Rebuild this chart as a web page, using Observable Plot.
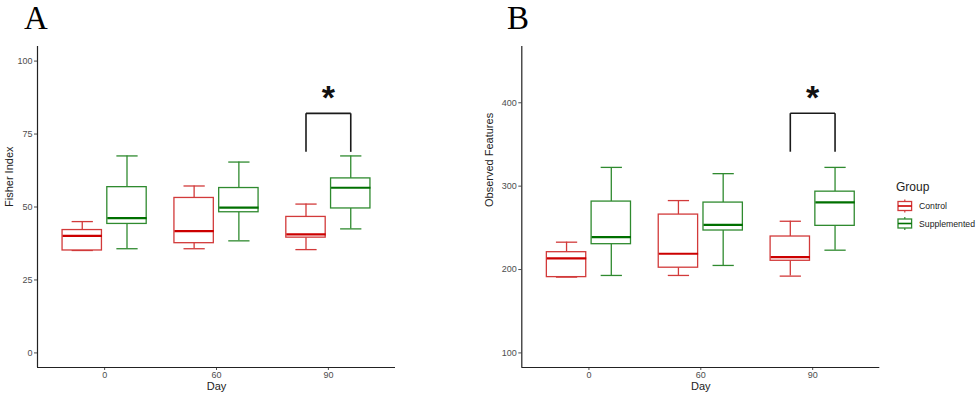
<!DOCTYPE html>
<html>
<head>
<meta charset="utf-8">
<script src="https://cdn.jsdelivr.net/npm/d3@7"></script>
<script src="https://cdn.jsdelivr.net/npm/@observablehq/plot@0.6"></script>
<style>
  body { margin: 0; background: #fff; }
  #wrap { position: relative; width: 979px; height: 398px; overflow: hidden; font-family: "Liberation Sans", Arial, sans-serif; }
  .panel { position: absolute; top: 0; }
  .letter { position: absolute; top: 2px; line-height: 1; font-family: "Liberation Serif", "Times New Roman", serif; font-size: 33px; color: #000; }
  #legend { position: absolute; left: 890px; top: 176px; }
</style>
</head>
<body>
<div id="wrap"></div>
<script>
// ---- data ----
const days = ["0", "60", "90"];
const groups = ["Control", "Supplemented"];
// each row: [min, q1, median, q3, max] for day 0, 60, 90
const fisherControl = [[35.1, 35.1, 40.1, 42.1, 45.0], [35.7, 37.6, 41.7, 53.1, 57.2], [35.4, 39.5, 40.6, 46.6, 51.0]];
const fisherSupplemented = [[35.7, 44.2, 46.2, 56.8, 67.5], [38.4, 48.2, 49.8, 56.5, 65.4], [42.5, 49.5, 56.6, 59.8, 67.5]];
const observedControl = [[190.9, 190.9, 213.3, 220.8, 232.8], [192.9, 202.2, 218.9, 265.9, 282.7], [192.1, 210.5, 214.8, 239.6, 257.9]];
const observedSupplemented = [[192.9, 230.4, 238.8, 281.5, 322.5], [204.9, 246.8, 253.6, 280.3, 315.0], [223.2, 252.4, 280.6, 293.4, 322.5]];
// significance bracket: [day, top, leg bottom]
const fisherBracket = ["90", 82.1, 68.9];
const observedBracket = ["90", 387.5, 341.3];
const fisherTicks = [0, 25, 50, 75, 100];
const observedTicks = [100, 200, 300, 400];

const colors = {Control: "#d23a3a", Supplemented: "#2f8a2f"};
const medianColors = {Control: "#cc0000", Supplemented: "#007000"};

function rows(ctrl, supp) {
  const out = [];
  [ctrl, supp].forEach((arr, gi) => {
    arr.forEach((s, di) => {
      out.push({day: days[di], group: groups[gi], pos: di + 1 + (gi === 0 ? -0.2 : 0.2),
        min: s[0], q1: s[1], med: s[2], q3: s[3], max: s[4]});
    });
  });
  return out;
}

function panel({ctrl, supp, bracket, domain, ticks, ylabel, width, marginLeft, marginRight}) {
  const data = rows(ctrl, supp);
  const bx = days.indexOf(bracket[0]) + 1;
  const br = [
    {x1: bx - 0.2, x2: bx + 0.2, y1: bracket[1], y2: bracket[1]},
    {x1: bx - 0.2, x2: bx - 0.2, y1: bracket[2], y2: bracket[1]},
    {x1: bx + 0.2, x2: bx + 0.2, y1: bracket[2], y2: bracket[1]}
  ];
  const hw = 0.176, cw = 0.095;
  return Plot.plot({
    width, height: 398,
    marginLeft, marginRight, marginTop: 46, marginBottom: 31,
    style: {fontFamily: "Liberation Sans, Arial, sans-serif", fontSize: "9px", background: "transparent"},
    x: {domain: [0.4, 3.6], axis: null},
    y: {domain, axis: null},
    marks: [
      Plot.axisX({ticks: [1, 2, 3], tickFormat: d => days[d - 1], tickSize: 3, tickPadding: 1.5, color: "#4d4d4d", label: null}),
      Plot.axisY({ticks, tickSize: 3, tickPadding: 2, color: "#4d4d4d", label: null}),
      Plot.ruleX([0.4], {stroke: "#222", strokeWidth: 1.2}),
      Plot.ruleY([domain[0]], {stroke: "#222", strokeWidth: 1.2}),
      // whiskers
      Plot.ruleX(data, {x: "pos", y1: "q3", y2: "max", stroke: d => colors[d.group], strokeWidth: 1.3}),
      Plot.ruleX(data, {x: "pos", y1: "min", y2: "q1", stroke: d => colors[d.group], strokeWidth: 1.3}),
      Plot.link(data, {x1: d => d.pos - cw, x2: d => d.pos + cw, y1: "max", y2: "max", stroke: d => colors[d.group], strokeWidth: 1.3}),
      Plot.link(data, {x1: d => d.pos - cw, x2: d => d.pos + cw, y1: "min", y2: "min", stroke: d => colors[d.group], strokeWidth: 1.3}),
      // boxes
      Plot.rect(data, {x1: d => d.pos - hw, x2: d => d.pos + hw, y1: "q1", y2: "q3", fill: "white", stroke: d => colors[d.group], strokeWidth: 1.3}),
      Plot.link(data, {x1: d => d.pos - hw, x2: d => d.pos + hw, y1: "med", y2: "med", stroke: d => medianColors[d.group], strokeWidth: 2.2}),
      // significance bracket
      Plot.link(br, {x1: "x1", x2: "x2", y1: "y1", y2: "y2", stroke: "#1a1a1a", strokeWidth: 1.6}),
      Plot.text(["*"], {x: bx, y: bracket[1], dy: -4, lineAnchor: "bottom", fontSize: 34, fontWeight: "bold", fill: "#111", fontFamily: "Liberation Sans, Arial, sans-serif"}),
      // axis titles
      Plot.text([ylabel], {frameAnchor: "left", rotate: -90, dx: -(marginLeft - 9), fontSize: 11, fill: "#222"}),
      Plot.text(["Day"], {frameAnchor: "bottom", dy: 22, fontSize: 11, fill: "#222"})
    ]
  });
}

const wrap = document.getElementById("wrap");

const a = panel({ctrl: fisherControl, supp: fisherSupplemented, bracket: fisherBracket,
  domain: [-5, 105], ticks: fisherTicks, ylabel: "Fisher Index", width: 440, marginLeft: 37, marginRight: 45});
a.classList.add("panel"); a.style.left = "0px";
wrap.appendChild(a);

const b = panel({ctrl: observedControl, supp: observedSupplemented, bracket: observedBracket,
  domain: [82.5, 467.5], ticks: observedTicks, ylabel: "Observed Features", width: 420, marginLeft: 41.3, marginRight: 20.7});
b.classList.add("panel"); b.style.left = "480px";
wrap.appendChild(b);

// panel letters
[["A", 24], ["B", 507]].forEach(([t, x]) => {
  const d = document.createElement("div");
  d.className = "letter"; d.textContent = t; d.style.left = x + "px";
  wrap.appendChild(d);
});

// legend
const ns = "http://www.w3.org/2000/svg";
const lg = document.createElementNS(ns, "svg");
lg.setAttribute("id", "legend");
lg.setAttribute("width", 89); lg.setAttribute("height", 60);
function el(tag, attrs, text) {
  const e = document.createElementNS(ns, tag);
  for (const k in attrs) e.setAttribute(k, attrs[k]);
  if (text) e.textContent = text;
  lg.appendChild(e); return e;
}
el("text", {x: 6, y: 15, "font-size": 12, fill: "#222", "font-family": "Liberation Sans, Arial, sans-serif"}, "Group");
groups.forEach((g, i) => {
  const cy = 30 + i * 17.5;
  el("line", {x1: 14.8, x2: 14.8, y1: cy - 6.5, y2: cy + 6.5, stroke: colors[g], "stroke-width": 1.2});
  el("rect", {x: 8, y: cy - 4.5, width: 13.6, height: 9, fill: "white", stroke: colors[g], "stroke-width": 1.3});
  el("line", {x1: 8, x2: 21.6, y1: cy, y2: cy, stroke: medianColors[g], "stroke-width": 1.6});
  el("text", {x: 29, y: cy, dy: "0.35em", "font-size": 8.7, fill: "#222", "font-family": "Liberation Sans, Arial, sans-serif"}, g);
});
wrap.appendChild(lg);
</script>
</body>
</html>
